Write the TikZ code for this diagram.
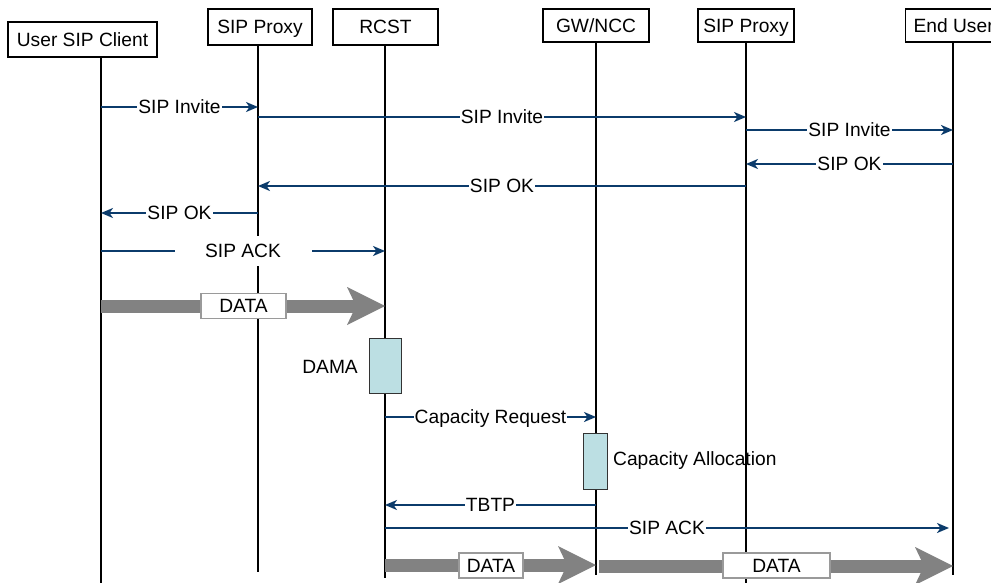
\documentclass[tikz,border=0pt]{standalone}
\usepackage{fontspec}
\setmainfont{Liberation Sans}
\usetikzlibrary{arrows.meta}
\definecolor{msgblue}{HTML}{0B3B6B}
\definecolor{databar}{HTML}{828282}
\definecolor{actfill}{HTML}{BCDFE3}
\definecolor{boxgray}{HTML}{9A9A9A}
\begin{document}
\begin{tikzpicture}[x=1pt,y=-1pt,
  every node/.style={font=\fontsize{19.2}{23}\selectfont, inner sep=0pt, text height=13.8pt, text depth=0.5pt},
  head/.style={draw=black, line width=1.3pt, fill=white},
  life/.style={draw=black, line width=1.2pt},
  msg/.style={draw=msgblue, line width=2pt, -{Stealth[length=12pt,width=10pt,inset=3.5pt]}},
  lbl/.style={fill=white, inner xsep=1pt, inner ysep=2pt},
  dataarrow/.style={draw=databar, line width=13pt, -{Stealth[length=38pt,width=38pt,inset=9pt,line width=0pt]}},
  databox/.style={draw=boxgray, line width=1.3pt, fill=white, minimum height=25pt},
  act/.style={draw=black!80, line width=1pt, fill=actfill}]
\clip (0,0) rectangle (991,583);
\fill[white] (0,0) rectangle (991,583);

% heads
\node[head, minimum width=149pt, minimum height=35pt] (uc) at (82.5,39.5) {User SIP Client};
\node[head, minimum width=104pt, minimum height=36pt] (p1) at (260,27) {SIP Proxy};
\node[head, minimum width=105pt, minimum height=36pt] (rc) at (385.5,27) {RCST};
\node[head, minimum width=106pt, minimum height=33pt] (gw) at (596,25.5) {GW/NCC};
\node[head, minimum width=96pt, minimum height=33pt] (p2) at (746,25.5) {SIP Proxy};
\node[head, anchor=west, inner xsep=8pt, minimum height=33pt] (eu) at (905,25.5) {End User};

% lifeline bottoms
\coordinate (uL) at (101,583);
\coordinate (p1L) at (258,572);
\coordinate (rcL) at (385,578);
\coordinate (gwL) at (596,575);
\coordinate (p2L) at (746,583);
\coordinate (euL) at (953,575);

\draw[life] (uc.south -| uL) -- (uL);
\draw[life] (p1.south -| p1L) -- (p1L);
\draw[life] (rc.south -| rcL) -- (rcL);
\draw[life] (gw.south -| gwL) -- (gwL);
\draw[life] (p2.south -| p2L) -- (p2L);
\draw[life] (eu.south -| euL) -- (euL);

% messages
\draw[msg] (uL |- 0,107) -- node[lbl] {SIP Invite} (p1L |- 0,107);
\draw[msg] (p1L |- 0,117) -- node[lbl] {SIP Invite} (p2L |- 0,117);
\draw[msg] (p2L |- 0,130) -- node[lbl] {SIP Invite} (euL |- 0,130);
\draw[msg] (euL |- 0,164) -- node[lbl] {SIP OK} (p2L |- 0,164);
\draw[msg] (p2L |- 0,186) -- node[lbl] {SIP OK} (p1L |- 0,186);
\draw[msg] (p1L |- 0,213) -- node[lbl] {SIP OK} (uL |- 0,213);
\draw[msg] (uL |- 0,251) -- node[lbl, minimum width=137pt, inner ysep=8pt] {SIP ACK} (rcL |- 0,251);

% DATA 1
\draw[dataarrow] (uL |- 0,306) -- (rcL |- 0,306);
\node[databox, minimum width=85pt] (d1) at (243.5,306) {DATA};

% DAMA
\node[act, minimum width=32pt, minimum height=55pt] (dama) at (385,365.5) {};
\node[anchor=east] (damal) at (358,367) {DAMA};

\draw[msg] (rcL |- 0,417) -- node[lbl] {Capacity Request} (gwL |- 0,417);

% Capacity allocation
\node[act, minimum width=24pt, minimum height=56pt] (ca) at (595,461) {};
\node[anchor=west] (cal) at (613,459) {Capacity Allocation};

\draw[msg] (gwL |- 0,505) -- node[lbl] {TBTP} (rcL |- 0,505);
\coordinate (ackend) at (949,528);
\draw[msg] (rcL |- 0,528) -- node[lbl] {SIP ACK} (ackend);

% DATA 2 and 3
\draw[dataarrow] (rcL |- 0,565) -- (gwL |- 0,565);
\node[databox, minimum width=64pt] (d2) at (491,565.5) {DATA};
\coordinate (d3start) at (599,566);
\draw[dataarrow] (d3start) -- (euL |- 0,566);
\node[databox, minimum width=107pt] (d3) at (776.5,565.5) {DATA};
\end{tikzpicture}
\end{document}
